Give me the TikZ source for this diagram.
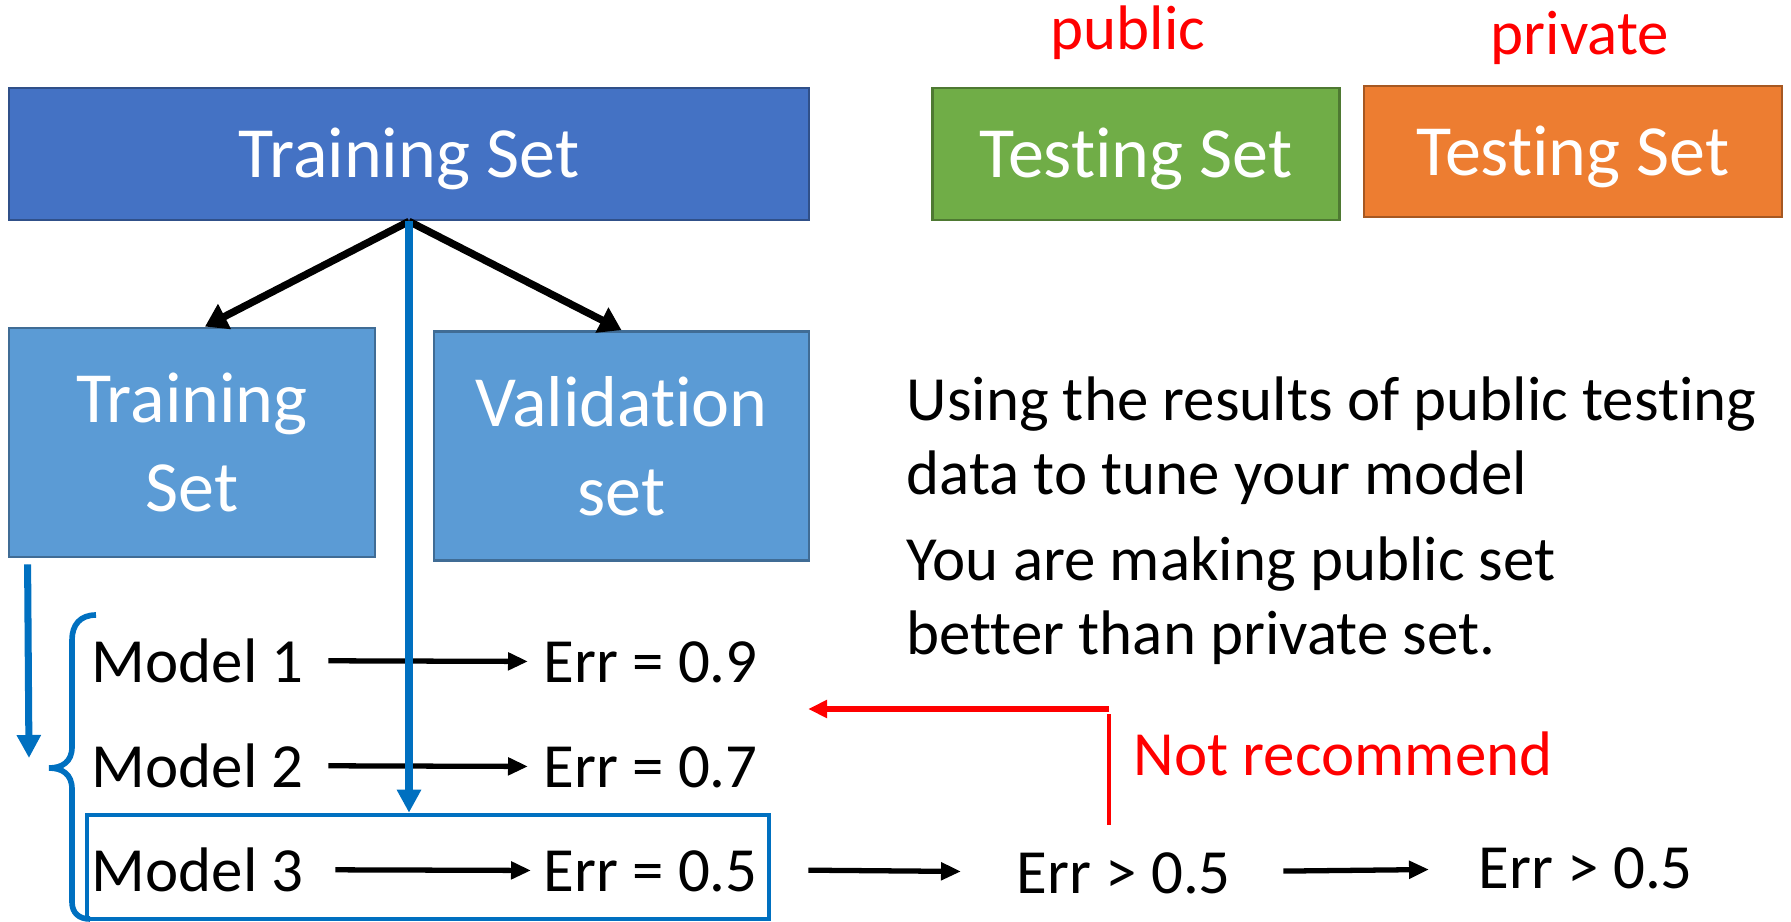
\documentclass[tikz,border=0pt]{standalone}
\usepackage{fontspec}
\setmainfont{Carlito}[Ligatures={NoCommon,NoContextual},Contextuals=NoAlternate]
\usetikzlibrary{positioning,arrows.meta}
\definecolor{setblue}{HTML}{4472C4}
\definecolor{subblue}{HTML}{5B9BD5}
\definecolor{pubgreen}{HTML}{70AD47}
\definecolor{privorange}{HTML}{ED7D31}
\definecolor{lineblue}{HTML}{0070C0}
\definecolor{warnred}{HTML}{FF0000}
% keep t and i apart (no ti ligature)
\newcommand{\ti}{t\kern0pt i}
\tikzset{
  setbox/.style={draw=#1!70!black, line width=0.8pt, fill=#1, text=white, minimum height=1.32cm, text height=0.62cm, text depth=0.14cm, inner sep=0pt, font=\fontsize{20.5}{25}\selectfont},
  setbox/.default={setblue},
  subbox/.style={draw=subblue!70!black, line width=0.8pt, fill=subblue, text=white, align=center, minimum height=2.29cm, inner sep=0pt, font=\fontsize{20.5}{25.3}\selectfont},
  selbox/.style={draw=lineblue, line width=1.3pt, minimum width=6.82cm, minimum height=1.04cm, inner sep=0pt},
  lbl/.style={inner sep=0pt, font=\fontsize{17.9}{21}\selectfont},
  redlbl/.style={lbl, text=warnred},
  splitarrow/.style={-{Triangle[length=0.22cm, width=0.27cm]}, line width=2.1pt},
  flowarrow/.style={-{Triangle[length=0.2cm, width=0.17cm]}, line width=1.5pt},
  bluearrow/.style={-{Triangle[length=0.23cm, width=0.23cm]}, line width=2pt, draw=lineblue, fill=lineblue},
  redarrow/.style={-{Triangle[length=0.19cm, width=0.17cm]}, line width=1.5pt, draw=warnred, fill=warnred}
}
\begin{document}
\begin{tikzpicture}
  \useasboundingbox (0,0) rectangle (17.91,-9.22);
  % data sets
  \node[setbox, minimum width=8cm] (trainall) at (4.09,-1.54) {Training Set};
  \node[setbox=pubgreen, minimum width=4.07cm] (pubtest) at (11.36,-1.54) {Tes\ti ng Set};
  \node[setbox=privorange, minimum width=4.18cm, minimum height=1.31cm] (privtest) at (15.73,-1.515) {Tes\ti ng Set};
  \node[redlbl, anchor=base] (publbl) at (11.28,-0.50) {public};
  \node[redlbl, anchor=base] (privlbl) at (15.80,-0.55) {private};
  \node[subbox, minimum width=3.66cm] (trainsub) at (1.92,-4.425) {Training\\Set};
  \node[subbox, minimum width=3.75cm] (valid) at (6.215,-4.46) {Valida\ti on\\set};
  \draw[splitarrow] (trainall.south) -- ([xshift=.13cm]trainsub.north);
  \draw[splitarrow] (trainall.south) -- (valid.north);
  % models and errors
  \node[lbl, anchor=base west] (m1) at (0.91,-6.82) {Model 1};
  \node[lbl, anchor=base west] (m2) at (0.91,-7.87) {Model 2};
  \node[lbl, anchor=base west] (m3) at (0.91,-8.91) {Model 3};
  \node[lbl, anchor=base west] (e1) at (5.43,-6.82) {Err = 0.9};
  \node[lbl, anchor=base west] (e2) at (5.43,-7.87) {Err = 0.7};
  \node[lbl, anchor=base west] (e3) at (5.43,-8.91) {Err = 0.5};
  \draw[flowarrow, shorten <=0.24cm, shorten >=0.15cm] (m1) -- (e1);
  \draw[flowarrow, shorten <=0.24cm, shorten >=0.15cm] (m2) -- (e2);
  \draw[flowarrow, shorten <=0.31cm, shorten >=0.12cm] (m3) -- (e3);
  \node[selbox] (sel) at (4.28,-8.67) {};
  \draw[bluearrow] (trainall.south) -- (trainall.south |- sel.north);
  \coordinate (brtip) at (0.29,-7.58);
  \draw[bluearrow] ([xshift=.2cm,yshift=-.06cm]trainsub.south west) -- (brtip);
  \draw[lineblue, line width=1.6pt] (0.96,-6.15) .. controls (0.80,-6.15) and (0.72,-6.25) .. (0.72,-6.40)
    -- (0.72,-7.47) .. controls (0.72,-7.62) and (0.62,-7.68) .. (0.49,-7.68)
    .. controls (0.62,-7.68) and (0.72,-7.74) .. (0.72,-7.89)
    -- (0.72,-9.02) .. controls (0.72,-9.13) and (0.79,-9.19) .. (0.90,-9.19);
  % public / private testing
  \node[lbl, anchor=west, align=left] (note1) at (9.06,-4.405) {Using the results of public tes\ti ng\\data to tune your model};
  \node[lbl, anchor=west, align=left] (note2) at (9.06,-6.01) {You are making public set\\better than private set.};
  \node[lbl, anchor=base west] (gt1) at (10.16,-8.93) {Err > 0.5};
  \node[lbl, anchor=base west] (gt2) at (14.78,-8.88) {Err > 0.5};
  \draw[flowarrow, shorten <=0.37cm, shorten >=0.55cm] (sel) -- (gt1);
  \draw[flowarrow, shorten <=0.52cm, shorten >=0.49cm] (gt1) -- (gt2);
  \coordinate (nrtop) at (11.09,-7.09);
  \coordinate (nrend) at (8.08,-7.09);
  \coordinate (nrbot) at (11.09,-8.25);
  \draw[redarrow] (nrtop) -- (nrend);
  \draw[warnred, line width=1.2pt] ([yshift=-.05cm]nrtop) -- (nrbot);
  \node[redlbl, anchor=base west] (notrec) at (11.33,-7.75) {Not recommend};
\end{tikzpicture}
\end{document}
